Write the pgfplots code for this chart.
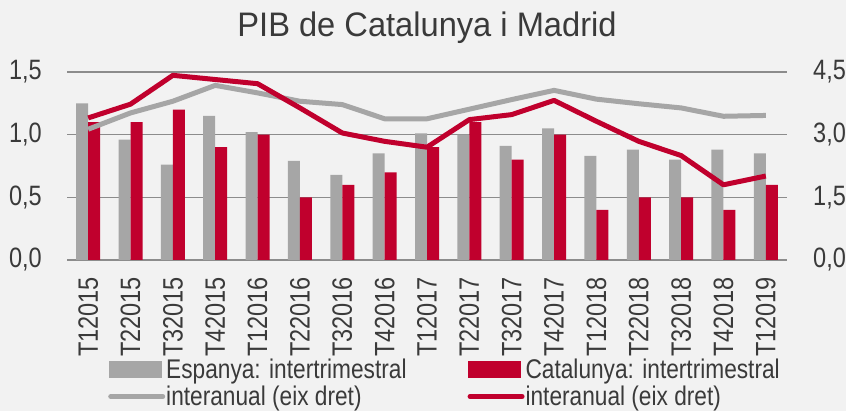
\documentclass[border=0pt]{standalone}
\usepackage{fontspec}
\setmainfont{Liberation Sans}[FakeStretch=0.84]
\newfontfamily\titlefont{Liberation Sans}[FakeStretch=0.96]
\usepackage{pgfplots}
\pgfplotsset{compat=1.18}
\usepackage{pgfplotstable}
\definecolor{bg}{HTML}{F2F2F2}
\definecolor{cgray}{HTML}{A6A6A6}
\definecolor{cred}{HTML}{C0002D}
\definecolor{gridc}{HTML}{8C8C8C}
\definecolor{txt}{HTML}{3A3A3A}

\pgfplotstableread{
x esp cat espia catia
0  1.25 1.10 3.13 3.40
1  0.96 1.10 3.52 3.73
2  0.76 1.20 3.80 4.42
3  1.15 0.90 4.18 4.32
4  1.02 1.00 4.00 4.22
5  0.79 0.50 3.80 3.64
6  0.68 0.60 3.72 3.04
7  0.85 0.70 3.38 2.84
8  1.01 0.90 3.38 2.70
9  1.00 1.10 3.61 3.36
10 0.91 0.80 3.84 3.48
11 1.05 1.00 4.06 3.82
12 0.83 0.40 3.85 3.32
13 0.88 0.50 3.74 2.84
14 0.80 0.50 3.64 2.50
15 0.88 0.40 3.44 1.80
16 0.85 0.60 3.46 2.01
}\datatable

\pgfplotsset{
  common/.style={
    at={(67pt,151pt)}, anchor=south west,
    width=720pt, height=188pt, scale only axis,
    xmin=-0.5, xmax=16.5,
    axis line style={draw=none},
    major tick length=0pt,
    tick style={draw=none},
    every tick label/.append style={font=\fontsize{28}{30}\selectfont, text=txt},
    /pgf/number format/assume math mode=true,
    /pgf/number format/.cd, fixed, fixed zerofill, precision=1, use comma,
  },
}

\begin{document}
\begin{tikzpicture}[x=1pt,y=1pt]
\fill[bg] (0,0) rectangle (846,411);
\useasboundingbox (0,0) rectangle (846,411);

\begin{axis}[common,
  ymin=0, ymax=1.5, ytick={0,0.5,1,1.5},
  ymajorgrids, grid style={gridc, line width=1.3pt},
  yticklabel style={anchor=east, inner sep=0pt, xshift=-25pt},
  xtick={0,...,16},
  xticklabels={T12015,T22015,T32015,T42015,T12016,T22016,T32016,T42016,T12017,T22017,T32017,T42017,T12018,T22018,T32018,T42018,T12019},
  xticklabel style={yshift=-17pt, rotate=90, anchor=east, inner sep=0pt},
  ybar=0pt, bar width=12pt,
  title={\titlefont\fontsize{34}{36}\selectfont PIB de Catalunya i Madrid},
  title style={at={(0.5,1)}, anchor=base, yshift=29pt, text=txt, inner sep=0pt},
]
\addplot[fill=cgray, draw=none] table[x=x, y=esp] {\datatable};
\addplot[fill=cred, draw=none] table[x=x, y=cat] {\datatable};
\end{axis}

\begin{axis}[common,
  ymin=0, ymax=4.5, ytick={0,1.5,3,4.5},
  yticklabel pos=right,
  yticklabel style={anchor=west, inner sep=0pt, xshift=26pt},
  xtick=\empty,
  legend columns=2,
  legend cell align=left,
  legend style={at={(0.057,-0.52)}, anchor=north west, draw=none, fill=none,
    font=\fontsize{27}{29}\selectfont, text=txt,
    inner sep=0pt, row sep=4pt,
    /tikz/every even column/.append style={column sep=60pt},
    nodes={inner sep=1pt}},
]
\addlegendimage{legend image code/.code={\fill[cgray] (0pt,-8pt) rectangle (52pt,8pt);}}
\addlegendimage{legend image code/.code={\fill[cred] (0pt,-8pt) rectangle (52pt,8pt);}}
\addplot[cgray, line width=5pt, line join=round, mark=none,
  legend image code/.code={\draw[cgray, line width=5pt, line cap=round] (2pt,0pt) -- (54pt,0pt);}]
  table[x=x, y=espia] {\datatable};
\addplot[cred, line width=5pt, line join=round, mark=none,
  legend image code/.code={\draw[cred, line width=5pt, line cap=round] (2pt,0pt) -- (54pt,0pt);}]
  table[x=x, y=catia] {\datatable};
\legend{Espanya: intertrimestral, Catalunya: intertrimestral, interanual (eix dret), interanual (eix dret)}
\end{axis}
\end{tikzpicture}
\end{document}
